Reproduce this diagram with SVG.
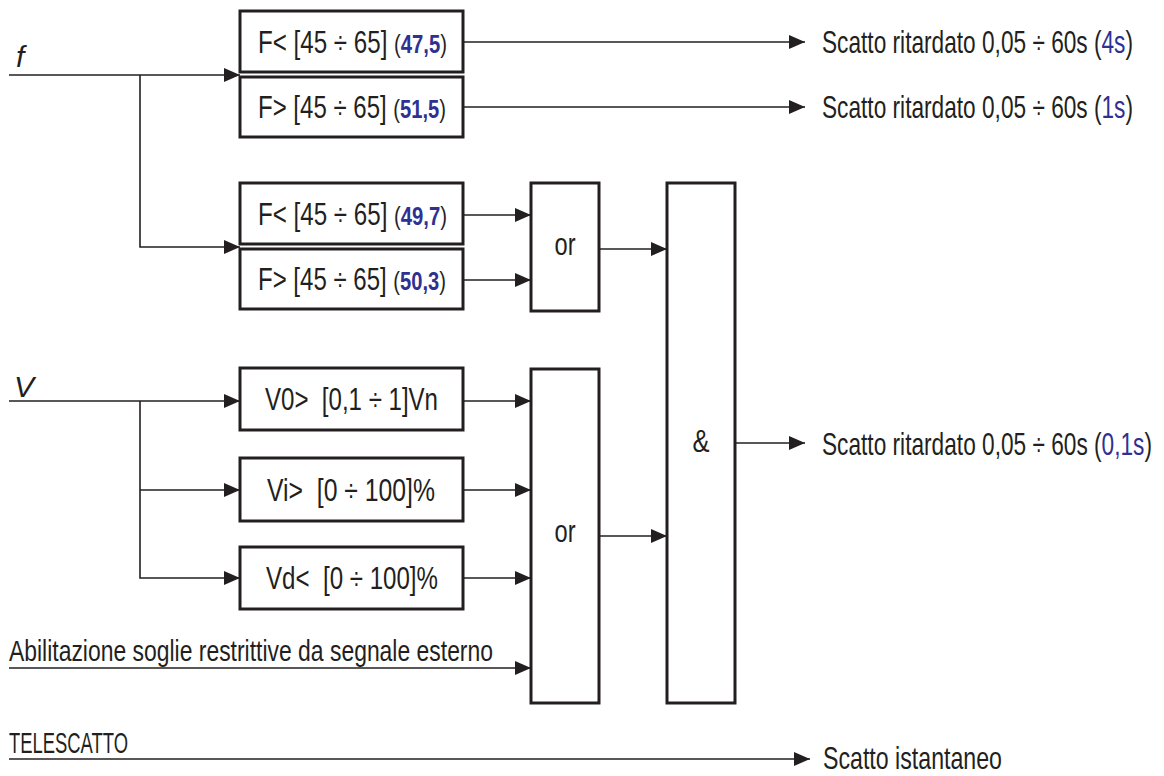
<svg xmlns="http://www.w3.org/2000/svg" width="1164" height="776" viewBox="0 0 1164 776">
  <defs>
    <marker id="arrow" markerUnits="userSpaceOnUse" markerWidth="16" markerHeight="14" refX="16" refY="7" orient="auto">
      <path d="M0,0 L16,7 L0,14 Z" fill="#231f20"/>
    </marker>
    <style>
      text { font-family: "Liberation Sans", Arial, sans-serif; font-size: 31px; fill: #231f20; white-space: pre; }
      .box { fill: #ffffff; stroke: #231f20; stroke-width: 3; }
      .wire { fill: none; stroke: #231f20; stroke-width: 1.6; }
      .arr { marker-end: url(#arrow); }
      .par { font-size: 26px; }
      .num { font-weight: bold; fill: #2e3192; font-size: 26px; }
      .val { fill: #2e3192; }
      .out { font-size: 32px; }
      .lbl { font-size: 30px; }
      .ctr { text-anchor: middle; }
      .it { font-style: italic; }
    </style>
  </defs>

  <!-- input labels -->
  <text class="it lbl" x="16" y="67">f</text>
  <text class="it lbl" x="14" y="397">V</text>
  <text class="lbl" x="9" y="661" textLength="484" lengthAdjust="spacingAndGlyphs">Abilitazione soglie restrittive da segnale esterno</text>
  <text class="lbl" x="9" y="753" textLength="119" lengthAdjust="spacingAndGlyphs">TELESCATTO</text>

  <!-- connectors -->
  <g id="connectors">
    <path class="wire arr" d="M9,75 H240"/>
    <path class="wire arr" d="M140,75 V247 H240"/>
    <path class="wire arr" d="M463,42 H805"/>
    <path class="wire arr" d="M463,107 H805"/>
    <path class="wire arr" d="M463,215 H531"/>
    <path class="wire arr" d="M463,280 H531"/>
    <path class="wire arr" d="M599,249 H667"/>
    <path class="wire arr" d="M9,401 H240"/>
    <path class="wire arr" d="M140,401 V578 H240"/>
    <path class="wire arr" d="M140,490 H240"/>
    <path class="wire arr" d="M463,401 H531"/>
    <path class="wire arr" d="M463,490 H531"/>
    <path class="wire arr" d="M463,578 H531"/>
    <path class="wire arr" d="M9,668 H531"/>
    <path class="wire arr" d="M599,536 H667"/>
    <path class="wire arr" d="M735,443 H805"/>
    <path class="wire arr" d="M9,759 H810"/>
  </g>

  <!-- frequency thresholds -->
  <g id="f-min-1">
    <rect class="box" x="240" y="11" width="223" height="61"/>
    <text x="258" y="52.5" textLength="189" lengthAdjust="spacingAndGlyphs">F&lt; [45 ÷ 65] <tspan class="par">(</tspan><tspan class="num">47,5</tspan><tspan class="par">)</tspan></text>
  </g>
  <g id="f-max-1">
    <rect class="box" x="240" y="77" width="223" height="60"/>
    <text x="258" y="118" textLength="188" lengthAdjust="spacingAndGlyphs">F&gt; [45 ÷ 65] <tspan class="par">(</tspan><tspan class="num">51,5</tspan><tspan class="par">)</tspan></text>
  </g>
  <g id="f-min-2">
    <rect class="box" x="240" y="183" width="223" height="61"/>
    <text x="258" y="224.5" textLength="189" lengthAdjust="spacingAndGlyphs">F&lt; [45 ÷ 65] <tspan class="par">(</tspan><tspan class="num">49,7</tspan><tspan class="par">)</tspan></text>
  </g>
  <g id="f-max-2">
    <rect class="box" x="240" y="249" width="223" height="60"/>
    <text x="258" y="290" textLength="188" lengthAdjust="spacingAndGlyphs">F&gt; [45 ÷ 65] <tspan class="par">(</tspan><tspan class="num">50,3</tspan><tspan class="par">)</tspan></text>
  </g>

  <!-- voltage thresholds -->
  <g id="v0">
    <rect class="box" x="240" y="368" width="223" height="62"/>
    <text x="265" y="410" textLength="173" lengthAdjust="spacingAndGlyphs">V0&gt;  [0,1 ÷ 1]Vn</text>
  </g>
  <g id="vi">
    <rect class="box" x="240" y="458" width="223" height="63"/>
    <text x="267" y="500.5" textLength="168" lengthAdjust="spacingAndGlyphs">Vi&gt;  [0 ÷ 100]%</text>
  </g>
  <g id="vd">
    <rect class="box" x="240" y="547" width="223" height="62"/>
    <text x="266" y="589" textLength="172" lengthAdjust="spacingAndGlyphs">Vd&lt;  [0 ÷ 100]%</text>
  </g>

  <!-- logic gates -->
  <g id="or-f">
    <rect class="box" x="531" y="183" width="68" height="128"/>
    <text class="ctr" x="565" y="255" textLength="21" lengthAdjust="spacingAndGlyphs">or</text>
  </g>
  <g id="or-v">
    <rect class="box" x="531" y="369" width="68" height="334"/>
    <text class="ctr" x="565" y="542" textLength="21" lengthAdjust="spacingAndGlyphs">or</text>
  </g>
  <g id="and">
    <rect class="box" x="667" y="183" width="68" height="520"/>
    <text class="ctr" x="701" y="452" textLength="17" lengthAdjust="spacingAndGlyphs">&amp;</text>
  </g>

  <!-- outputs -->
  <g id="out-1">
    <text class="out" x="822" y="53" textLength="311" lengthAdjust="spacingAndGlyphs">Scatto ritardato 0,05 ÷ 60s (<tspan class="val">4s</tspan>)</text>
  </g>
  <g id="out-2">
    <text class="out" x="822" y="118" textLength="311" lengthAdjust="spacingAndGlyphs">Scatto ritardato 0,05 ÷ 60s (<tspan class="val">1s</tspan>)</text>
  </g>
  <g id="out-3">
    <text class="out" x="822" y="455" textLength="330" lengthAdjust="spacingAndGlyphs">Scatto ritardato 0,05 ÷ 60s (<tspan class="val">0,1s</tspan>)</text>
  </g>
  <g id="out-4">
    <text class="out" x="823" y="769" textLength="179" lengthAdjust="spacingAndGlyphs">Scatto istantaneo</text>
  </g>
</svg>
